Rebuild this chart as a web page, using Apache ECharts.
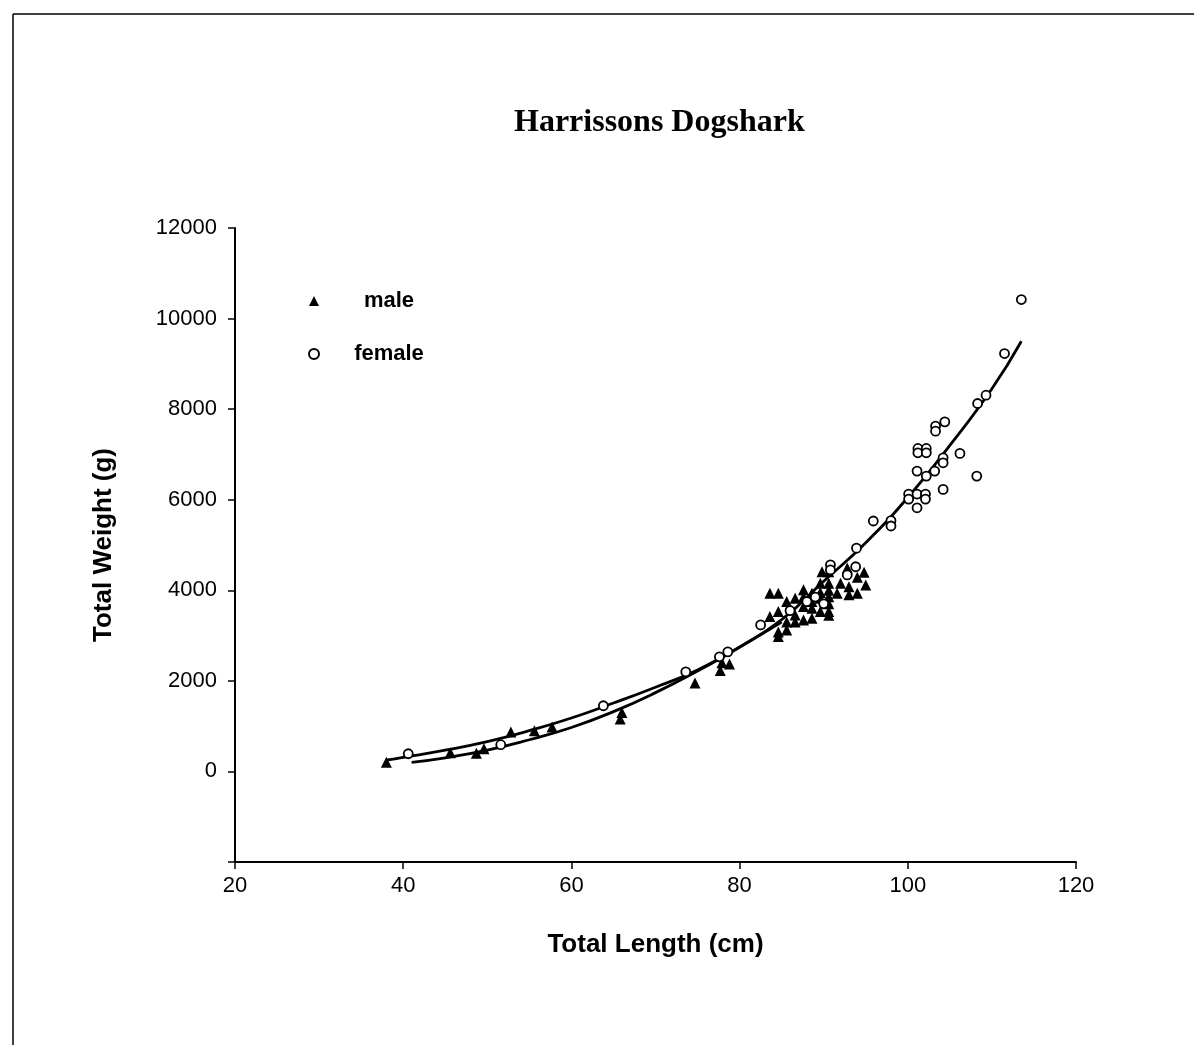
<!DOCTYPE html>
<html>
<head>
<meta charset="utf-8">
<script src="https://cdn.jsdelivr.net/npm/echarts@6/dist/echarts.min.js"></script>
<style>
html,body{margin:0;padding:0;background:#fff;}
#chart{width:1194px;height:1045px;}
</style>
</head>
<body>
<div id="chart"></div>
<script>
// ---- data ----
var titleText = 'Harrissons Dogshark';
var xName = 'Total Length (cm)';
var yName = 'Total Weight (g)';
var seriesNames = ['male', 'female'];

var xTicks = [20, 40, 60, 80, 100, 120];
var yTicks = [-2000, 0, 2000, 4000, 6000, 8000, 10000, 12000];

// male observations [length cm, weight g]
var maleData = [
  [38, 200], [45.6, 410], [48.7, 400], [49.6, 500], [52.8, 870], [55.6, 900], [57.7, 980],
  [65.8, 1160], [66, 1300], [74.7, 1950], [77.7, 2230], [77.9, 2400], [78.8, 2370],
  [83.6, 3935], [84.6, 3935], [83.6, 3420], [84.6, 3530], [84.6, 2980], [84.6, 3080],
  [85.6, 3750], [85.6, 3125], [85.6, 3300], [86.6, 3825], [86.6, 3455], [86.6, 3300],
  [87.6, 4010], [87.6, 3640], [87.6, 3345], [87.6, 3850], [88.6, 3935], [88.6, 3605],
  [88.6, 3385], [88.6, 3750], [89.6, 4155], [89.6, 3825], [89.6, 3530], [89.8, 4410],
  [89.6, 3950], [90.6, 4410], [90.6, 4155], [90.6, 3860], [90.6, 3530], [90.6, 3700],
  [90.6, 4000], [90.6, 3450], [91.6, 3935], [92, 4155], [92.8, 4490], [93, 4080],
  [93, 3900], [94, 3935], [94, 4290], [94.8, 4400], [95, 4118]
];

// female observations [length cm, weight g]
var femaleData = [
  [40.6, 390], [51.6, 590], [63.8, 1450], [73.6, 2200], [77.6, 2530], [78.6, 2640],
  [82.5, 3235], [86, 3550], [88, 3750], [89, 3850], [90, 3700], [90.8, 4560], [90.8, 4450],
  [92.8, 4340], [93.8, 4520], [93.9, 4930], [95.9, 5530], [98, 5537], [98, 5420],
  [100.1, 6125], [100.1, 6014], [101.1, 6125], [102.1, 6125], [102.1, 6014], [101.1, 5822],
  [104.2, 6228], [101.1, 6632], [102.2, 6521], [103.2, 6632], [104.2, 6925], [104.2, 6815],
  [106.2, 7022], [108.2, 6521], [101.2, 7132], [101.2, 7036], [102.2, 7132], [102.2, 7036],
  [103.3, 7624], [103.3, 7514], [104.4, 7720], [108.3, 8125], [109.3, 8308], [111.5, 9228],
  [113.5, 10420]
];

// fitted curves, points
var maleCurve = [
  [38, 250], [40, 310], [45, 470], [50, 660], [55, 900], [60, 1180], [65, 1510],
  [70, 1860], [75, 2240], [80, 2750], [85, 3300]
];
var femaleCurve = [
  [41, 200], [45, 300], [50, 470], [55, 700], [60, 970], [65, 1320], [70, 1740],
  [75, 2220], [80, 2740], [85, 3350], [90, 4200], [95, 5050], [100, 6050],
  [105, 7200], [110, 8450], [113.5, 9500]
];

// ---- chart ----
var chart = echarts.init(document.getElementById('chart'), null, {renderer: 'canvas'});
var sans = 'Arial, "Liberation Sans", sans-serif';
var serif = '"Times New Roman", "Liberation Serif", serif';

chart.setOption({
  backgroundColor: '#ffffff',
  animation: false,
  title: {
    text: titleText,
    left: 509,
    top: 102,
    textStyle: {fontFamily: serif, fontWeight: 'bold', fontSize: 32, color: '#000'}
  },
  legend: {
    orient: 'vertical',
    left: 303,
    top: 285,
    itemGap: 31,
    itemWidth: 10,
    itemHeight: 10,
    data: [
      {name: seriesNames[0], icon: 'triangle'},
      {name: seriesNames[1], icon: 'circle'}
    ],
    formatter: function (n) { return '{c|' + n + '}'; },
    textStyle: {
      color: '#000',
      rich: {c: {width: 130, align: 'center', fontFamily: sans, fontWeight: 'bold', fontSize: 22, color: '#000'}}
    }
  },
  grid: {left: 235, right: 118, top: 228, bottom: 183, containLabel: false},
  xAxis: {
    type: 'value',
    min: xTicks[0],
    max: xTicks[xTicks.length - 1],
    interval: xTicks[1] - xTicks[0],
    name: xName,
    nameLocation: 'middle',
    nameGap: 70,
    nameTextStyle: {fontFamily: sans, fontWeight: 'bold', fontSize: 26, color: '#000'},
    axisLine: {show: true, onZero: false, lineStyle: {color: '#000', width: 2}},
    axisTick: {show: true, length: 7, lineStyle: {color: '#000', width: 1.5}},
    axisLabel: {fontFamily: sans, fontSize: 22, color: '#000', margin: 13},
    splitLine: {show: false}
  },
  yAxis: {
    type: 'value',
    min: yTicks[0],
    max: yTicks[yTicks.length - 1],
    interval: yTicks[1] - yTicks[0],
    name: yName,
    nameLocation: 'middle',
    nameGap: 118,
    nameRotate: 90,
    nameTextStyle: {fontFamily: sans, fontWeight: 'bold', fontSize: 26, color: '#000'},
    axisLine: {show: true, onZero: false, lineStyle: {color: '#000', width: 2}},
    axisTick: {show: true, length: 7, lineStyle: {color: '#000', width: 1.5}},
    axisLabel: {
      fontFamily: sans, fontSize: 22, color: '#000', margin: 18,
      formatter: function (v) { return v < 0 ? '' : String(v); }
    },
    splitLine: {show: false}
  },
  series: [
    {
      name: seriesNames[0],
      type: 'scatter',
      data: maleData,
      symbol: 'triangle',
      symbolSize: 11,
      itemStyle: {color: '#000', opacity: 1},
      z: 3
    },
    {
      name: seriesNames[1],
      type: 'scatter',
      data: femaleData,
      symbol: 'circle',
      symbolSize: 9,
      itemStyle: {color: '#fff', borderColor: '#000', borderWidth: 1.8, opacity: 1},
      z: 4
    },
    {
      name: 'male fit',
      type: 'line',
      data: maleCurve,
      smooth: true,
      showSymbol: false,
      symbol: 'none',
      lineStyle: {color: '#000', width: 2.8},
      z: 2
    },
    {
      name: 'female fit',
      type: 'line',
      data: femaleCurve,
      smooth: true,
      showSymbol: false,
      symbol: 'none',
      lineStyle: {color: '#000', width: 2.8},
      z: 2
    }
  ],
  graphic: [
    {type: 'line', shape: {x1: 13, y1: 14, x2: 1194, y2: 14}, style: {stroke: '#000', lineWidth: 1.5}},
    {type: 'line', shape: {x1: 13, y1: 14, x2: 13, y2: 1045}, style: {stroke: '#000', lineWidth: 1.5}}
  ]
});
</script>
</body>
</html>
